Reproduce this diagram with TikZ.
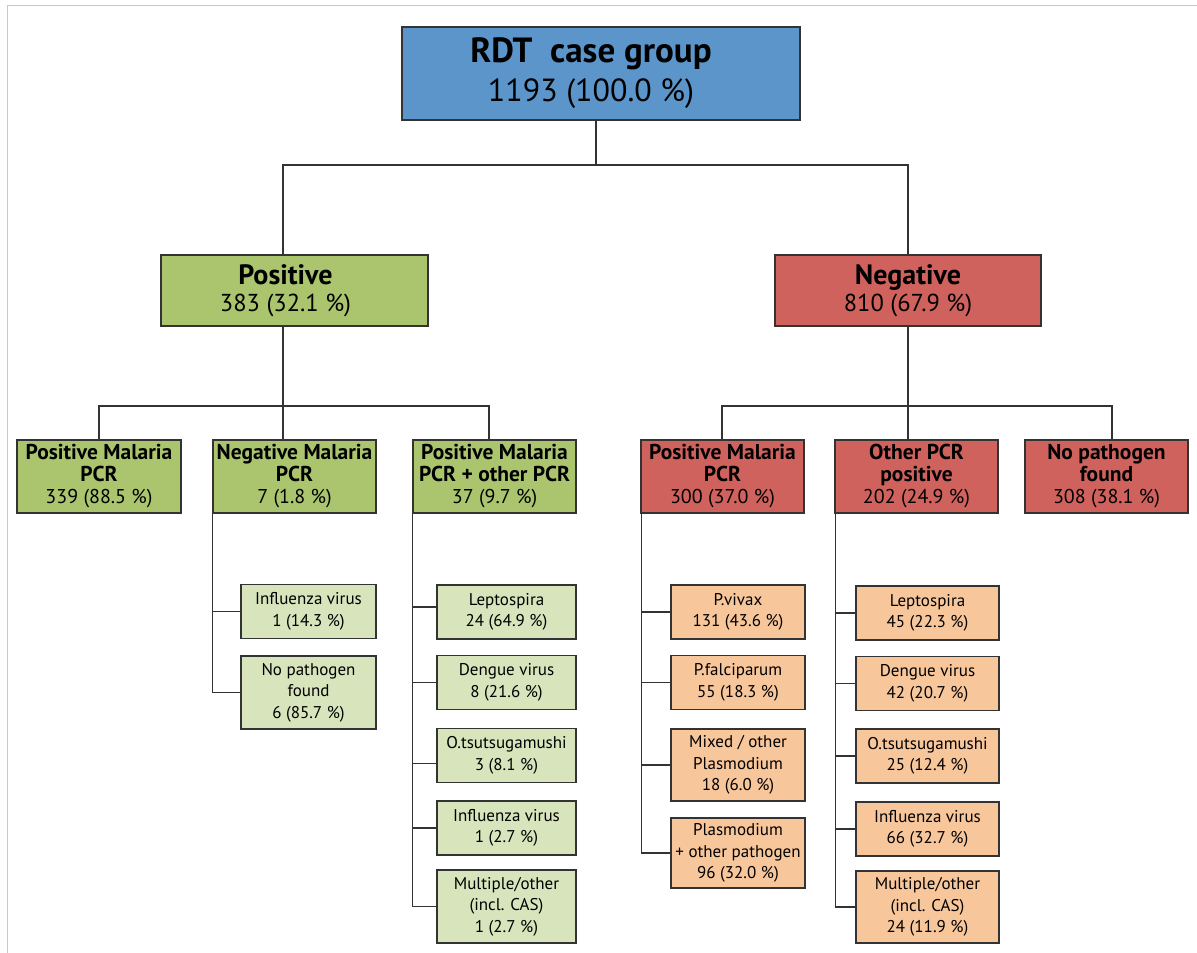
\documentclass[tikz,border=0pt]{standalone}
\usepackage{fontspec}
\setmainfont{PT Sans}
\definecolor{rootblue}{HTML}{5B95CA}
\definecolor{posgreen}{HTML}{ABC56E}
\definecolor{negred}{HTML}{D0625E}
\definecolor{leafgreen}{HTML}{D8E4BC}
\definecolor{leaforange}{HTML}{F8C69B}
\definecolor{edge}{HTML}{333333}
\definecolor{framegray}{HTML}{C8C8C8}
% heading lines at each level
\newcommand\rootHead[1]{{\fontsize{35}{39}\selectfont\bfseries #1}}
\newcommand\midHead[1]{{\fontsize{28}{27}\selectfont\bfseries #1}}
\newcommand\catHead[1]{{\fontsize{21.5}{22}\selectfont\bfseries #1}}
\tikzset{
  box/.style={draw=edge, line width=1.3pt, inner sep=0pt, align=center, text=black},
  rootbox/.style={box, fill=rootblue, minimum width=398pt, minimum height=93pt,
    font=\fontsize{32}{39}\selectfont},
  midbox/.style={box, minimum width=267pt, minimum height=71pt,
    font=\fontsize{24.5}{27}\selectfont},
  catbox/.style={box, minimum width=164pt, minimum height=73pt,
    font=\fontsize{20}{22}\selectfont},
  leafbox/.style={box, line width=1.1pt, minimum height=54pt,
    font=\fontsize{17}{21.5}\selectfont},
  tall/.style={minimum height=73pt},
  lg/.style={leafbox, fill=leafgreen, minimum width=136pt},
  lo/.style={leafbox, fill=leaforange, minimum width=136pt},
  conn/.style={draw=edge, line width=1.2pt},
}
\begin{document}
\begin{tikzpicture}[x=1pt, y=-1pt]
\useasboundingbox (0,0) rectangle (1197,953);
% thin page frame
\draw[framegray, line width=1.5pt] (7.5,953) -- (7.5,5.5) -- (1197,5.5);

% root
\node[rootbox] (root) at (601,73.5) {\rootHead{RDT\ \ case group}\hspace*{20pt}\\1193 (100.0 \%)\hspace*{20pt}};

% first split
\node[midbox, fill=posgreen] (pos) at (294.5,290.5) {\midHead{Positive}\hspace*{18pt}\\383 (32.1 \%)\hspace*{18pt}};
\node[midbox, fill=negred, minimum width=266pt] (neg) at (908,290.5) {\midHead{Negative}\\810 (67.9 \%)};

% categories under Positive
\node[catbox, fill=posgreen] (pm) at (99,476.5) {\catHead{Positive Malaria}\\\catHead{PCR}\\339 (88.5 \%)};
\node[catbox, fill=posgreen, minimum width=163pt] (nm) at (294.5,476.5) {\catHead{Negative Malaria}\\\catHead{PCR}\\7 (1.8 \%)};
\node[catbox, fill=posgreen, minimum width=163pt] (po) at (494.5,476.5) {\catHead{Positive Malaria}\\\catHead{PCR + other PCR}\\37 (9.7 \%)};

% categories under Negative
\node[catbox, fill=negred, minimum width=163pt] (npm) at (722.5,476.5) {\catHead{Positive Malaria}\\\catHead{PCR}\\300 (37.0 \%)};
\node[catbox, fill=negred, minimum width=163pt] (opp) at (916.5,476.5) {\catHead{Other PCR}\\\catHead{positive}\\202 (24.9 \%)};
\node[catbox, fill=negred, minimum width=163pt] (npf) at (1106.5,476.5) {\catHead{No pathogen}\\\catHead{found}\\308 (38.1 \%)};

% leaves: negative malaria PCR
\node[lg, minimum width=135pt] (nmA) at (308.5,611.5) {Influenza virus\\1 (14.3 \%)};
\node[lg, tall, minimum width=135pt] (nmB) at (308.5,692.5) {No pathogen\\found\\6 (85.7 \%)};

% leaves: positive malaria PCR + other PCR
\node[lg, minimum width=139pt] (poA) at (506.5,612) {Leptospira\\24 (64.9 \%)};
\node[lg, minimum width=139pt] (poB) at (506.5,682.5) {Dengue virus\\8 (21.6 \%)};
\node[lg, minimum width=139pt] (poC) at (506.5,755.5) {O.tsutsugamushi\\3 (8.1 \%)};
\node[lg, minimum width=139pt] (poD) at (506.5,828) {Influenza virus\\1 (2.7 \%)};
\node[lg, tall, minimum width=139pt] (poE) at (506.5,906.5) {Multiple/other\\(incl. CAS)\\1 (2.7 \%)};

% leaves: positive malaria PCR (RDT negative)
\node[lo, minimum width=134pt] (npmA) at (738,612) {P.vivax\\131 (43.6 \%)};
\node[lo, minimum width=134pt] (npmB) at (738,682.5) {P.falciparum\\55 (18.3 \%)};
\node[lo, tall, minimum width=134pt, minimum height=72pt] (npmC) at (738,765) {Mixed / other\\Plasmodium\\18 (6.0 \%)};
\node[lo, tall, minimum width=134pt, minimum height=70pt] (npmD) at (738,853) {Plasmodium\\+ other pathogen\\96 (32.0 \%)};

% leaves: other PCR positive
\node[lo, minimum width=143pt] (oppA) at (927.5,613) {Leptospira\\45 (22.3 \%)};
\node[lo, minimum width=143pt] (oppB) at (927.5,683.5) {Dengue virus\\42 (20.7 \%)};
\node[lo, minimum width=143pt] (oppC) at (927.5,756) {O.tsutsugamushi\\25 (12.4 \%)};
\node[lo, minimum width=143pt] (oppD) at (927.5,829) {Influenza virus\\66 (32.7 \%)};
\node[lo, tall, minimum width=143pt, minimum height=72pt] (oppE) at (927.5,907) {Multiple/other\\(incl. CAS)\\24 (11.9 \%)};

% junction points of the tree
\coordinate (j0) at (596,165);
\coordinate (jp) at (283,406);
\coordinate (jn) at (908,406);
\coordinate (xpm) at (99,0);
\coordinate (xpo) at (489,0);
\coordinate (xnpm) at (722,0);
\coordinate (xnpf) at (1112,0);
\coordinate (sNpm) at ([xshift=1pt]npm.south west);
\coordinate (sOpp) at ([xshift=1pt]opp.south west);
\coordinate (poAin) at ([yshift=5pt]poA.west);
\coordinate (poCin) at ([yshift=-8pt]poC.west);

% root to first split
\draw[conn] (root.south -| j0) -- (j0);
\draw[conn] (j0) -| (pos.north -| jp);
\draw[conn] (j0) -| (neg.north -| jn);

% Positive to its categories
\draw[conn] (pos.south -| jp) -- (jp);
\draw[conn] (jp) -| (pm.north -| xpm);
\draw[conn] (jp) -- (nm.north -| jp);
\draw[conn] (jp) -| (po.north -| xpo);

% Negative to its categories
\draw[conn] (neg.south -| jn) -- (jn);
\draw[conn] (jn) -| (npm.north -| xnpm);
\draw[conn] (jn) -- (opp.north -| jn);
\draw[conn] (jn) -| (npf.north -| xnpf);

% category spines to leaves
\draw[conn] (nm.south west) |- (nmB.west);
\draw[conn] (nm.south west |- nmA.west) -- (nmA.west);

\draw[conn] (po.south west) |- (poE.west);
\draw[conn] (po.south west |- poAin) -- (poAin);
\draw[conn] (po.south west |- poB.west) -- (poB.west);
\draw[conn] (po.south west |- poCin) -- (poCin);
\draw[conn] (po.south west |- poD.west) -- (poD.west);

\draw[conn] (sNpm) |- (npmD.west);
\draw[conn] (sNpm |- npmA.west) -- (npmA.west);
\draw[conn] (sNpm |- npmB.west) -- (npmB.west);
\draw[conn] (sNpm |- npmC.west) -- (npmC.west);

\draw[conn] (sOpp) |- (oppE.west);
\draw[conn] (sOpp |- oppA.west) -- (oppA.west);
\draw[conn] (sOpp |- oppB.west) -- (oppB.west);
\draw[conn] (sOpp |- oppC.west) -- (oppC.west);
\draw[conn] (sOpp |- oppD.west) -- (oppD.west);
\end{tikzpicture}
\end{document}
